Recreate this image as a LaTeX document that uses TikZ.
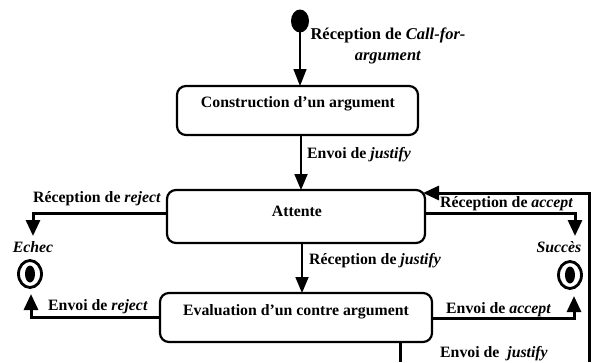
\documentclass[tikz,border=0pt]{standalone}
\usepackage{fontspec}
\setmainfont{Liberation Serif}
\usetikzlibrary{arrows.meta,calc,shapes.geometric}
\begin{document}
\begin{tikzpicture}[x=1pt,y=-1pt,
  statebox/.style={draw,line width=2.2pt,rounded corners=9pt,fill=white},
  lbl/.style={font=\bfseries\fontsize{15.8}{17}\selectfont,inner sep=0pt},
  ilbl/.style={font=\bfseries\itshape\fontsize{15.8}{17}\selectfont,inner sep=0pt},
  conn/.style={line width=3pt,-{Triangle[length=16pt,width=14pt]}},
  vconn/.style={line width=1.8pt,-{Triangle[length=16pt,width=13pt]}},
  plainline/.style={line width=3pt},
  finalouter/.style={draw,line width=2.8pt,ellipse,minimum width=23pt,minimum height=27pt,inner sep=0pt},
]
\useasboundingbox (0,0) rectangle (592,362);
\fill[white] (0,0) rectangle (592,362);
% initial state
\fill (300,21) ellipse [x radius=9, y radius=11.5];
\coordinate (init) at (300,21);
% boxes
\draw[statebox] (177,86) rectangle (418,135);
\node[lbl] (cons) at (298,104) {Construction d’un argument};
\coordinate (consN) at (300,86);
\coordinate (consS) at (301,135);
\draw[statebox] (167,190) rectangle (425,243);
\node[lbl] (att) at (297,211) {Attente};
\coordinate (attN) at (301,190);
\coordinate (attS) at (302,243);
\coordinate (attW) at (167,213);
\coordinate (attE) at (425,213);
\coordinate (attNE) at (423,193);
\draw[statebox] (160,293) rectangle (432,342);
\node[lbl] (eval) at (296,312) {Evaluation d’un contre argument};
\coordinate (evalN) at (302,293);
\coordinate (evalW) at (160,317);
\coordinate (evalE) at (432,318);
\coordinate (evalS) at (400,342);
% final states
\node[finalouter] (echec) at (30,274) {};
\fill (30,274) ellipse [x radius=5, y radius=8.5];
\node[finalouter] (succes) at (570,275) {};
\fill (570,275) ellipse [x radius=5, y radius=8.5];
\node[ilbl] (echecl) at (33,247) {Echec};
\node[ilbl] (succesl) at (559,247) {Succès};
\coordinate (echecIn) at (31,294);
\coordinate (succesIn) at (574,296);
\coordinate (echecTop) at (33,236);
\coordinate (succesTop) at (575,236);
% connectors
\draw[line width=1.6pt,-{Triangle[length=17pt,width=13pt]}] (init) -- (consN);
\node[lbl,align=center,font=\bfseries\fontsize{16.5}{21}\selectfont] (l1) at (388,46) {Réception de \textit{Call-for-}\\\textit{argument}};
\draw[vconn] (consS) -- (attN);
\node[lbl,anchor=west] (l2) at (307,155) {Envoi de \textit{justify}};
\draw[vconn] (attS) -- (evalN);
\node[lbl,anchor=west] (l3) at (309,261) {Réception de \textit{justify}};
\draw[conn] (attW) -| (echecTop);
\node[lbl,anchor=west] (l4) at (33,199) {Réception de \textit{reject}};
\draw[conn] (evalW) -| (echecIn);
\node[lbl,anchor=west] (l5) at (48,307) {Envoi de \textit{reject}};
\draw[conn] (attE) -| (succesTop);
\node[lbl,anchor=west] (l6) at (440,204) {Réception de \textit{accept}};
\draw[conn] (evalE) -| (succesIn);
\node[lbl,anchor=west] (l7) at (446,310) {Envoi de \textit{accept}};
\coordinate (bl) at (400,362);
\coordinate (br) at (589,362);
\coordinate (tr) at (589,193);
\draw[plainline] (evalS) -- (bl);
\draw[conn] (br) -- (tr) -- (attNE);
\node[lbl,anchor=west] (l8) at (440,354) {Envoi de \ \textit{justify}};
\end{tikzpicture}
\end{document}
